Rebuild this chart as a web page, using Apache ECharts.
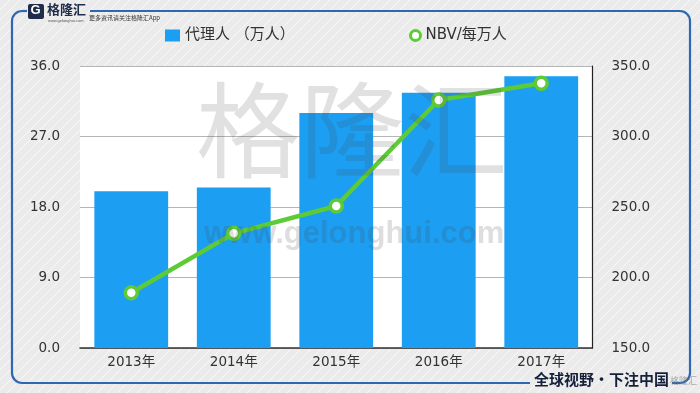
<!DOCTYPE html>
<html>
<head>
<meta charset="utf-8">
<script src="https://cdn.jsdelivr.net/npm/echarts@6/dist/echarts.min.js"></script>
<style>html,body{margin:0;padding:0;}#c{width:700px;height:393px;}</style>
</head>
<body>
<div id="c"></div>
<script>
const categories = ['2013年', '2014年', '2015年', '2016年', '2017年'];
const agents = [20.0, 20.5, 30.0, 32.6, 34.7];
const nbvPerAgent = [189.2, 231.3, 250.7, 325.9, 337.7];
const leftAxis = { min: 0, max: 36, interval: 9 };
const rightAxis = { min: 150, max: 350, interval: 50 };
const seriesNames = ['代理人 （万人）', 'NBV/每万人'];

const pat = document.createElement('canvas');
pat.width = 10; pat.height = 10;
const pc = pat.getContext('2d');
pc.fillStyle = '#ebebeb'; pc.fillRect(0, 0, 10, 10);
pc.strokeStyle = 'rgba(255,255,255,0.7)'; pc.lineWidth = 1;
pc.beginPath(); pc.moveTo(0, 10); pc.lineTo(10, 0); pc.stroke();
pc.beginPath(); pc.moveTo(-1, 1); pc.lineTo(1, -1); pc.stroke();
pc.beginPath(); pc.moveTo(9, 11); pc.lineTo(11, 9); pc.stroke();

const num = '"DejaVu Sans", "Liberation Sans", sans-serif';
const cjk = '"DejaVu Sans", "Noto Sans CJK SC", sans-serif';
const green = '#5ccb36';
const blue = '#1c9ef2';
const borderStyle = { stroke: '#2f68b0', lineWidth: 2.2, fill: 'none' };

function seg(x1, y1, x2, y2) {
  return { type: 'line', silent: true, shape: { x1, y1, x2, y2 }, style: borderStyle };
}
function corner(cx, cy, a0, a1) {
  return { type: 'arc', silent: true, shape: { cx, cy, r: 10, startAngle: a0, endAngle: a1, clockwise: true }, style: borderStyle };
}
const P = Math.PI;

const chart = echarts.init(document.getElementById('c'), null, { renderer: 'canvas' });
chart.setOption({
  animation: false,
  backgroundColor: { image: pat, repeat: 'repeat' },
  textStyle: { fontFamily: num },
  grid: { left: 80, right: 107.5, top: 66, bottom: 45, show: true, backgroundColor: '#ffffff', borderWidth: 0 },
  legend: [
    { left: 160, top: 23, itemWidth: 15, itemHeight: 12, itemGap: 10,
      textStyle: { fontFamily: cjk, fontSize: 15, color: '#333' },
      data: [{ name: seriesNames[0], icon: 'rect' }] },
    { left: 404, top: 23, itemWidth: 10, itemHeight: 10,
      textStyle: { fontFamily: cjk, fontSize: 15, color: '#333' },
      data: [{ name: seriesNames[1], icon: 'circle', itemStyle: { color: '#fff', borderColor: green, borderWidth: 3 } }] }
  ],
  xAxis: {
    type: 'category', data: categories,
    axisLine: { lineStyle: { color: '#333', width: 1.5 } },
    axisTick: { show: false },
    axisLabel: { color: '#333', fontSize: 13.5, margin: 8, fontFamily: cjk }
  },
  yAxis: [
    { type: 'value', min: leftAxis.min, max: leftAxis.max, interval: leftAxis.interval,
      axisLine: { show: false }, axisTick: { show: false },
      axisLabel: { color: '#333', fontSize: 13.5, margin: 20, formatter: v => v.toFixed(1) },
      splitLine: { lineStyle: { color: '#b5b5b5', width: 1 } } },
    { type: 'value', min: rightAxis.min, max: rightAxis.max, interval: rightAxis.interval,
      position: 'right',
      axisLine: { show: true, lineStyle: { color: '#222', width: 1.2 } }, axisTick: { show: false },
      axisLabel: { color: '#333', fontSize: 13.5, margin: 19, formatter: v => v.toFixed(1) },
      splitLine: { show: false } }
  ],
  series: [
    { name: seriesNames[0], type: 'bar', data: agents, barWidth: '72%', yAxisIndex: 0,
      itemStyle: { color: blue } },
    { name: seriesNames[1], type: 'line', data: nbvPerAgent, yAxisIndex: 1,
      symbol: 'circle', symbolSize: 12,
      lineStyle: { color: green, width: 4.5 },
      itemStyle: { color: '#fff', borderColor: green, borderWidth: 3.5 } }
  ],
  graphic: [
    seg(90, 11, 680, 11), seg(22, 11, 27, 11), seg(690, 21, 690, 373), seg(12, 21, 12, 373),
    seg(22, 383, 530, 383), seg(672, 383, 680, 383),
    corner(22, 21, P, 1.5 * P), corner(680, 21, 1.5 * P, 2 * P),
    corner(680, 373, 0, 0.5 * P), corner(22, 373, 0.5 * P, P),
    { type: 'rect', shape: { x: 28, y: 4, width: 16, height: 15, r: 2 }, style: { fill: '#1f2c4a' } },
    { type: 'text', left: 30.5, top: 3.5, style: { text: 'G', fill: '#fff', font: 'bold 13px Liberation Sans' } },
    { type: 'text', left: 47, top: 3, style: { text: '格隆汇', fill: '#1f2c4a', font: 'bold 13px "Noto Sans CJK SC"' } },
    { type: 'text', left: 48, top: 19, style: { text: 'www.gelonghui.com', fill: '#555', font: '4px Liberation Sans' } },
    { type: 'text', left: 89, top: 15, style: { text: '更多资讯请关注格隆汇App', fill: '#333', font: '6px "Noto Sans CJK SC"' } },
    { type: 'text', left: 534, top: 372, style: { text: '全球视野・下注中国', fill: '#15203a', font: 'bold 15px "Noto Sans CJK SC"' } },
    { type: 'text', left: 670, top: 376, style: { text: '格隆汇', fill: 'rgba(120,120,120,0.6)', font: '9px "Noto Sans CJK SC"' } },
    { type: 'text', left: 196, top: 78, z: 100, silent: true,
      style: { text: '格隆汇', fill: 'rgba(70,70,70,0.16)', font: '104px "Noto Sans CJK SC"' } },
    { type: 'text', left: 204, top: 219, z: 100, silent: true,
      style: { text: 'www.gelonghui.com', fill: 'rgba(70,70,70,0.18)', font: 'bold 31px Liberation Sans' } }
  ]
});
</script>
</body>
</html>
